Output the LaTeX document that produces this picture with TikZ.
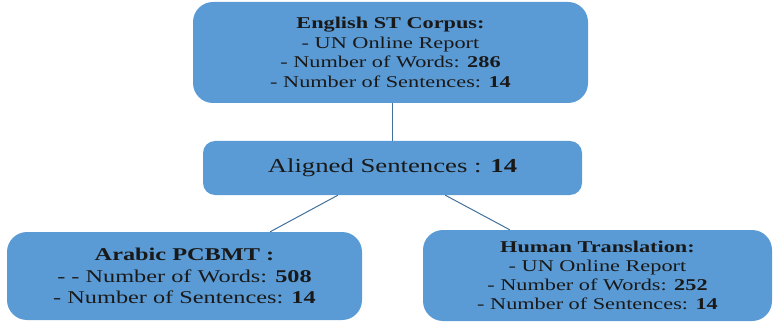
\documentclass[tikz,border=0pt]{standalone}
\usepackage{fontspec}
\setmainfont{Liberation Serif}[FakeStretch=1.35]
\usetikzlibrary{calc}
\definecolor{boxblue}{HTML}{5B9BD5}
\definecolor{linkblue}{HTML}{41719C}
\begin{document}
\begin{tikzpicture}[x=1pt,y=-1pt,
  box/.style={fill=boxblue, draw=none, rounded corners=20pt, align=center, inner sep=0pt, text=black!90},
  link/.style={draw=linkblue, line width=1pt}]
\useasboundingbox (0,0) rectangle (773,323);
\node[box, minimum width=395pt, minimum height=101pt,
      font=\fontsize{16.5}{19.5}\selectfont] (src) at (390.5,52.5)
  {\textbf{English ST Corpus:}\\- UN Online Report\\- Number of Words: \textbf{286}\\- Number of Sentences: \textbf{14}};
\node[box, rounded corners=12pt, minimum width=379pt, minimum height=54pt,
      font=\fontsize{19.8}{23}\selectfont] (al) at (392.5,168)
  {Aligned Sentences : \textbf{14}};
\node[box, minimum width=355pt, minimum height=88pt,
      font=\fontsize{18}{21.5}\selectfont] (ar) at (184.5,276)
  {\textbf{Arabic PCBMT :}\\- - Number of Words: \textbf{508}\\- Number of Sentences: \textbf{14}};
\node[box, minimum width=349pt, minimum height=91pt,
      font=\fontsize{16.5}{19}\selectfont] (ht) at (597.5,275.5)
  {\textbf{Human Translation:}\\- UN Online Report\\- Number of Words: \textbf{252}\\- Number of Sentences: \textbf{14}};
\draw[link] (al.north |- src.south) -- (al.north);
\draw[link] ($(al.south west)!0.356!(al.south east)$) -- ($(ar.north west)!0.741!(ar.north east)$);
\draw[link] ($(al.south west)!0.639!(al.south east)$) -- ($(ht.north west)!0.249!(ht.north east)$);
\end{tikzpicture}
\end{document}
